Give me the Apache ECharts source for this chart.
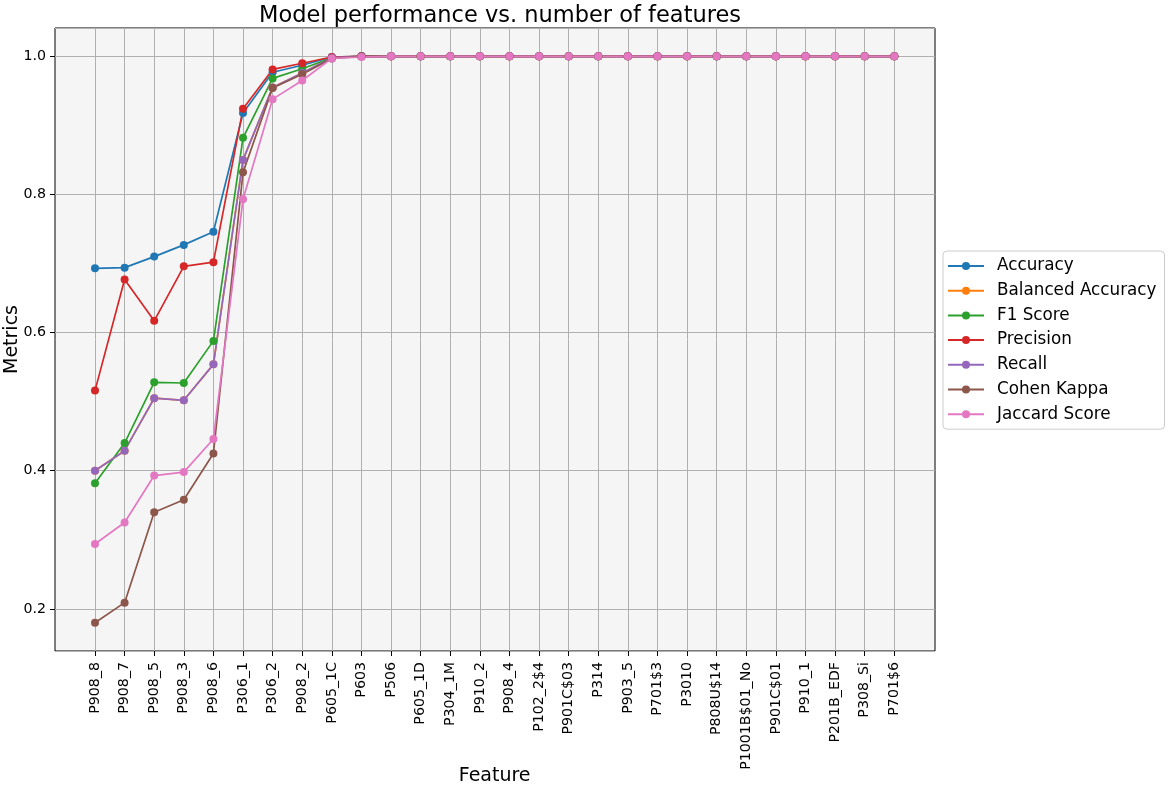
<!DOCTYPE html>
<html>
<head>
<meta charset="utf-8">
<script src="https://cdn.jsdelivr.net/npm/echarts@6/dist/echarts.min.js"></script>
<style>
    html, body { margin: 0; padding: 0; background: #fff; }
    #chart { width: 1169px; height: 786px; }
</style>
</head>
<body>
<div id="chart"></div>
<script>
const features = ['P908_8', 'P908_7', 'P908_5', 'P908_3', 'P908_6', 'P306_1', 'P306_2', 'P908_2',
    'P605_1C', 'P603', 'P506', 'P605_1D', 'P304_1M', 'P910_2', 'P908_4', 'P102_2$4', 'P901C$03',
    'P314', 'P903_5', 'P701$3', 'P3010', 'P808U$14', 'P1001B$01_No', 'P901C$01', 'P910_1',
    'P201B_EDF', 'P308_Si', 'P701$6'];

const accuracy = [0.693, 0.694, 0.710, 0.727, 0.746, 0.918, 0.977, 0.987, 0.999, 1.0,
    1.0, 1.0, 1.0, 1.0, 1.0, 1.0, 1.0, 1.0, 1.0, 1.0, 1.0, 1.0, 1.0, 1.0, 1.0, 1.0, 1.0, 1.0];
const balancedAccuracy = [0.400, 0.429, 0.505, 0.502, 0.554, 0.850, 0.955, 0.976, 0.998, 1.0,
    1.0, 1.0, 1.0, 1.0, 1.0, 1.0, 1.0, 1.0, 1.0, 1.0, 1.0, 1.0, 1.0, 1.0, 1.0, 1.0, 1.0, 1.0];
const f1Score = [0.382, 0.440, 0.528, 0.527, 0.588, 0.882, 0.968, 0.982, 0.998, 1.0,
    1.0, 1.0, 1.0, 1.0, 1.0, 1.0, 1.0, 1.0, 1.0, 1.0, 1.0, 1.0, 1.0, 1.0, 1.0, 1.0, 1.0, 1.0];
const precision = [0.516, 0.677, 0.617, 0.696, 0.702, 0.924, 0.981, 0.990, 0.999, 1.0,
    1.0, 1.0, 1.0, 1.0, 1.0, 1.0, 1.0, 1.0, 1.0, 1.0, 1.0, 1.0, 1.0, 1.0, 1.0, 1.0, 1.0, 1.0];
const recall = [0.400, 0.429, 0.505, 0.502, 0.554, 0.850, 0.955, 0.976, 0.998, 1.0,
    1.0, 1.0, 1.0, 1.0, 1.0, 1.0, 1.0, 1.0, 1.0, 1.0, 1.0, 1.0, 1.0, 1.0, 1.0, 1.0, 1.0, 1.0];
const cohenKappa = [0.180, 0.209, 0.340, 0.358, 0.425, 0.832, 0.954, 0.974, 0.997, 1.0,
    1.0, 1.0, 1.0, 1.0, 1.0, 1.0, 1.0, 1.0, 1.0, 1.0, 1.0, 1.0, 1.0, 1.0, 1.0, 1.0, 1.0, 1.0];
const jaccard = [0.294, 0.325, 0.393, 0.398, 0.446, 0.793, 0.938, 0.965, 0.997, 0.999,
    1.0, 1.0, 1.0, 1.0, 1.0, 1.0, 1.0, 1.0, 1.0, 1.0, 1.0, 1.0, 1.0, 1.0, 1.0, 1.0, 1.0, 1.0];

const metrics = [
    {name: 'Accuracy', data: accuracy, color: '#1f77b4'},
    {name: 'Balanced Accuracy', data: balancedAccuracy, color: '#ff7f0e'},
    {name: 'F1 Score', data: f1Score, color: '#2ca02c'},
    {name: 'Precision', data: precision, color: '#d62728'},
    {name: 'Recall', data: recall, color: '#9467bd'},
    {name: 'Cohen Kappa', data: cohenKappa, color: '#8c564b'},
    {name: 'Jaccard Score', data: jaccard, color: '#e377c2'}
];

const font = 'DejaVu Sans, sans-serif';
const yMin = 0.139, yMax = 1.041;
const gridColor = '#b0b0b0';

const chart = echarts.init(document.getElementById('chart'));

chart.setOption({
    animation: false,
    backgroundColor: '#fff',
    textStyle: {fontFamily: font},
    title: {
        text: 'Model performance vs. number of features',
        left: 495,
        textAlign: 'center',
        top: 0,
        textStyle: {fontFamily: font, fontSize: 22.5, fontWeight: 'normal', color: '#000'}
    },
    legend: {
        orient: 'vertical',
        left: 943,
        top: 251,
        padding: [6, 8, 6, 4],
        itemGap: 6.7,
        itemWidth: 36,
        itemHeight: 10,
        borderColor: '#cccccc',
        borderWidth: 1,
        borderRadius: 4,
        backgroundColor: 'rgba(255,255,255,0.8)',
        textStyle: {fontFamily: font, fontSize: 16.8, lineHeight: 18, color: '#000', padding: [0, 0, 0, 8]},
        data: metrics.map((m) => m.name)
    },
    grid: [
        // frame + background, full width
        {left: 55, top: 28, width: 880, height: 623, show: true, outerBoundsMode: 'none',
            backgroundColor: '#f5f5f5', borderColor: '#000', borderWidth: 1},
        // data area (matplotlib margins leave room either side)
        {left: 95, top: 28, width: 799.3, height: 623, outerBoundsMode: 'none'}
    ],
    xAxis: [
        {gridIndex: 0, type: 'value', min: 0, max: 1, show: false},
        {
            gridIndex: 1,
            type: 'category',
            data: features,
            boundaryGap: false,
            name: 'Feature',
            nameLocation: 'middle',
            nameGap: 116,
            nameMoveOverlap: false,
            nameTextStyle: {fontFamily: font, fontSize: 19, color: '#000'},
            axisLine: {show: false},
            axisTick: {show: true, alignWithLabel: true, length: 5, lineStyle: {color: '#000'}},
            axisLabel: {rotate: 90, interval: 0, fontSize: 14.2, color: '#000', margin: 11, fontFamily: font},
            splitLine: {show: true, lineStyle: {color: gridColor, width: 1}}
        }
    ],
    yAxis: [
        {
            gridIndex: 0,
            type: 'value',
            min: yMin,
            max: yMax,
            name: 'Metrics',
            nameLocation: 'middle',
            nameGap: 33,
            nameMoveOverlap: false,
            nameTextStyle: {fontFamily: font, fontSize: 19, color: '#000'},
            axisLine: {show: false},
            axisTick: {show: true, length: 5, lineStyle: {color: '#000'}},
            axisLabel: {
                showMinLabel: false,
                showMaxLabel: false,
                fontSize: 14.2,
                color: '#000',
                margin: 9,
                fontFamily: font,
                formatter: (v) => v.toFixed(1)
            },
            splitLine: {show: true, lineStyle: {color: gridColor, width: 1}}
        },
        {gridIndex: 1, type: 'value', min: yMin, max: yMax, show: false, splitLine: {show: false}}
    ],
    series: metrics.map((m) => ({
        name: m.name,
        type: 'line',
        xAxisIndex: 1,
        yAxisIndex: 1,
        data: m.data,
        symbol: 'circle',
        symbolSize: 8,
        showAllSymbol: true,
        color: m.color,
        lineStyle: {width: 1.7, color: m.color},
        itemStyle: {color: m.color}
    }))
});
</script>
</body>
</html>
